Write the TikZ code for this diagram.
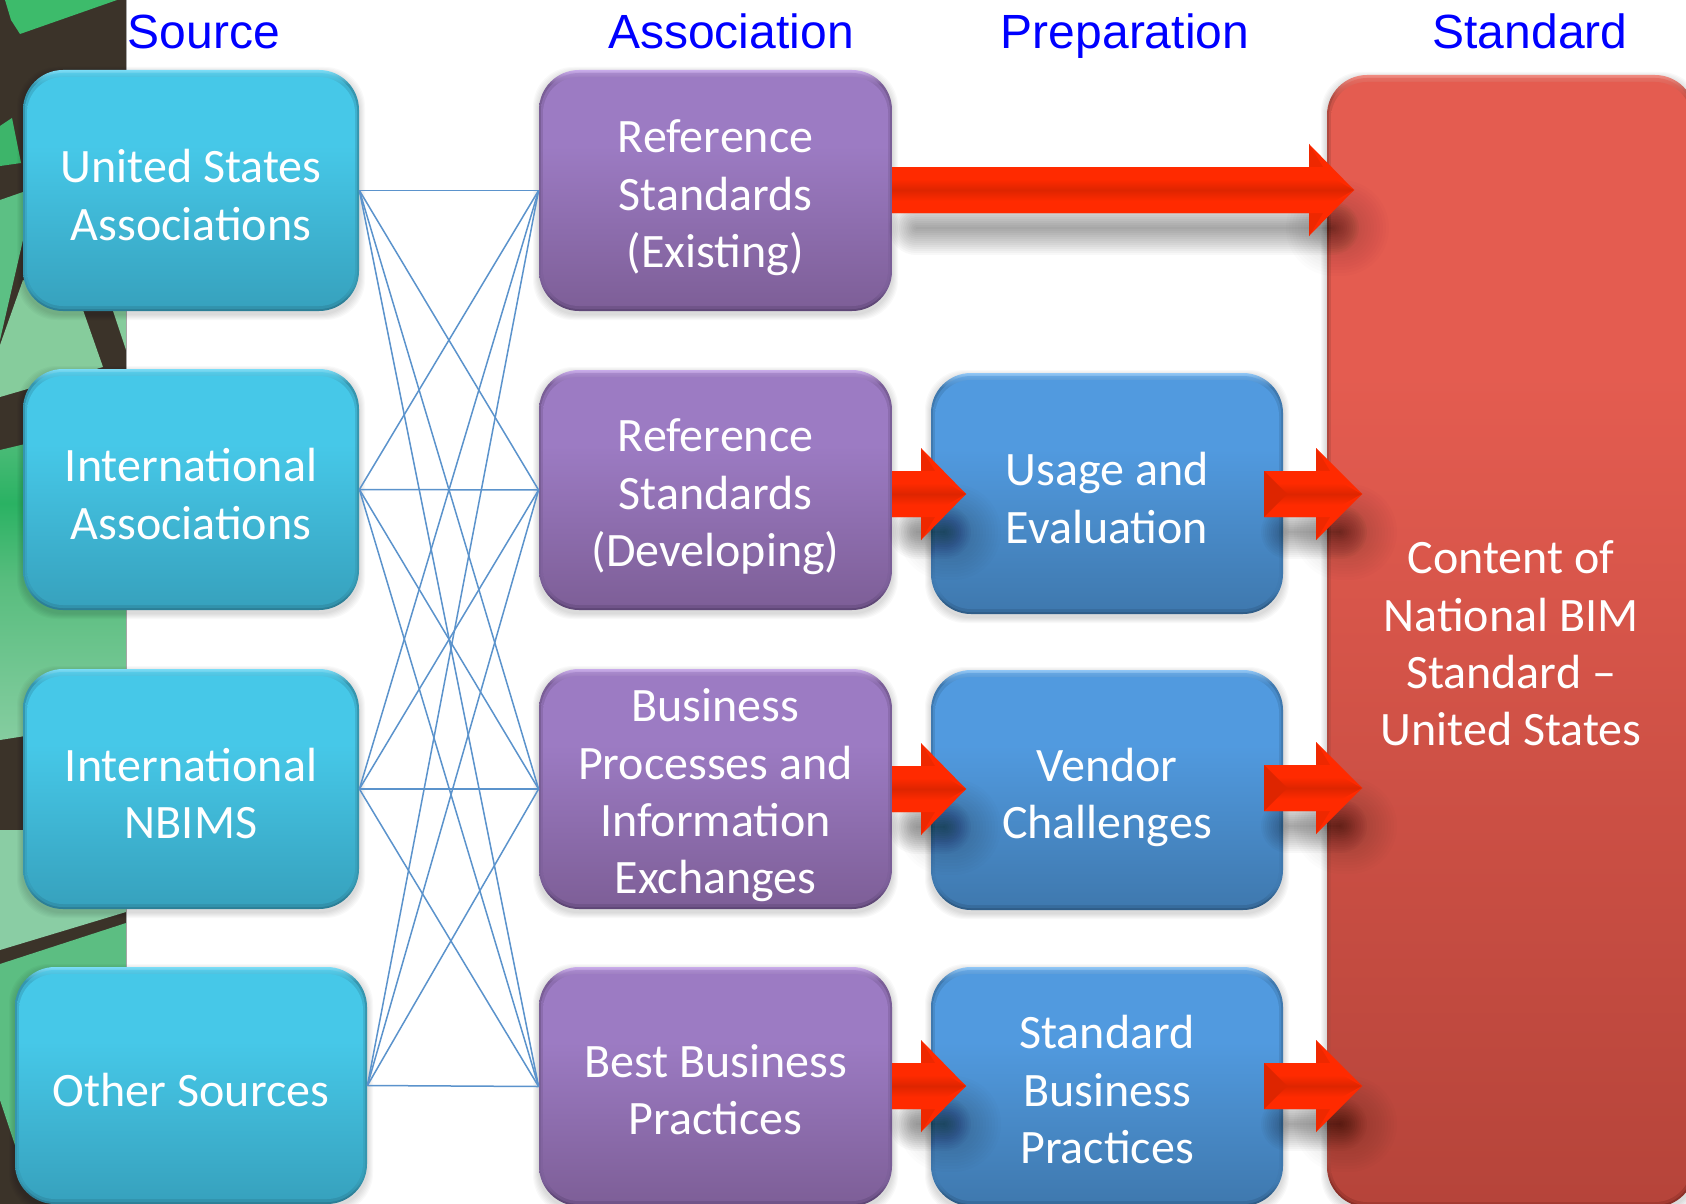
\documentclass[tikz,border=0pt]{standalone}
\usepackage{fontspec}
\setmainfont{Carlito}
\newfontfamily\carl{Carlito}
\newfontfamily\arial{Liberation Sans}
\usetikzlibrary{calc}
\definecolor{cyT}{HTML}{46C8E8}\definecolor{cyB}{HTML}{37A2BE}
\definecolor{cyH}{HTML}{7ADDF7}\definecolor{cyD}{HTML}{2C7F97}\definecolor{cyS}{HTML}{3596AF}
\definecolor{puT}{HTML}{9C7BC3}\definecolor{puB}{HTML}{7E5F98}
\definecolor{puH}{HTML}{C9ABEA}\definecolor{puD}{HTML}{5F4777}\definecolor{puS}{HTML}{7A5E97}
\definecolor{blT}{HTML}{519ADF}\definecolor{blB}{HTML}{3F79AF}
\definecolor{blH}{HTML}{90C6F6}\definecolor{blD}{HTML}{2F5D88}\definecolor{blS}{HTML}{3F79AF}
\definecolor{reT}{HTML}{E45C50}\definecolor{reB}{HTML}{B6443A}
\definecolor{reH}{HTML}{F08A80}\definecolor{reD}{HTML}{8C3028}\definecolor{reS}{HTML}{B04A40}
\definecolor{arR}{HTML}{FF2A00}\definecolor{arD}{HTML}{DE2500}\definecolor{arF}{HTML}{EE2800}
\definecolor{linkc}{HTML}{5B93CC}
\definecolor{bark}{HTML}{3B3329}
\definecolor{stripA}{HTML}{2AB263}\definecolor{stripB}{HTML}{58BD7E}\definecolor{stripC}{HTML}{85CDA0}\definecolor{stripD}{HTML}{58BF7F}
\definecolor{gOne}{HTML}{3DBB6B}\definecolor{gTwo}{HTML}{3DB56A}\definecolor{gThree}{HTML}{5CC084}
\definecolor{gFour}{HTML}{86CC9C}\definecolor{gFive}{HTML}{8ACDA4}\definecolor{gSix}{HTML}{5CBE82}
\pgfdeclareverticalshading{cyanedge}{100bp}{color(0bp)=(cyD);color(25bp)=(cyD);color(27bp)=(cyD);color(30bp)=(cyS);color(72bp)=(cyS);color(75bp)=(cyH);color(100bp)=(cyH)}
\pgfdeclareverticalshading{cyanface}{100bp}{color(0bp)=(cyB);color(25bp)=(cyB);color(60bp)=(cyT);color(75bp)=(cyT);color(100bp)=(cyT)}
\pgfdeclareverticalshading{puredge}{100bp}{color(0bp)=(puD);color(25bp)=(puD);color(27bp)=(puD);color(30bp)=(puS);color(72bp)=(puS);color(75bp)=(puH);color(100bp)=(puH)}
\pgfdeclareverticalshading{purface}{100bp}{color(0bp)=(puB);color(25bp)=(puB);color(60bp)=(puT);color(75bp)=(puT);color(100bp)=(puT)}
\pgfdeclareverticalshading{bluedge}{100bp}{color(0bp)=(blD);color(25bp)=(blD);color(27bp)=(blD);color(30bp)=(blS);color(72bp)=(blS);color(75bp)=(blH);color(100bp)=(blH)}
\pgfdeclareverticalshading{bluface}{100bp}{color(0bp)=(blB);color(25bp)=(blB);color(60bp)=(blT);color(75bp)=(blT);color(100bp)=(blT)}
\pgfdeclareverticalshading{rededge}{100bp}{color(0bp)=(reD);color(25bp)=(reD);color(26bp)=(reD);color(27bp)=(reS);color(74bp)=(reS);color(75bp)=(reH);color(100bp)=(reH)}
\pgfdeclareverticalshading{redface}{100bp}{color(0bp)=(reB);color(25bp)=(reB);color(62bp)=(reT);color(75bp)=(reT);color(100bp)=(reT)}
\pgfdeclareverticalshading{shaftshade}{100bp}{color(0bp)=(arR);color(25bp)=(arR);color(38bp)=(arR);color(50bp)=(arD);color(62bp)=(arR);color(75bp)=(arR);color(100bp)=(arR)}
\pgfdeclareverticalshading{stripshade}{100bp}{color(0bp)=(stripC);color(25bp)=(stripC);color(50bp)=(stripB);color(62bp)=(stripA);color(75bp)=(stripD);color(100bp)=(stripD)}
\newcommand{\insetface}[1]{%
  \shade[shading=#1,rounded corners=19pt,opacity=.55] ([shift={(2,3)}]path picture bounding box.north west) rectangle ([shift={(-2,-2)}]path picture bounding box.south east);
  \shade[shading=#1,rounded corners=18pt] ([shift={(4,7)}]path picture bounding box.north west) rectangle ([shift={(-4,-5)}]path picture bounding box.south east);}
\tikzset{
  x=0.5pt,y=-0.5pt,
  boxbase/.style={rectangle,rounded corners=20pt,inner sep=0pt},
  cyanbox/.style={boxbase,shade,shading=cyanedge,path picture={\insetface{cyanface}}},
  purplebox/.style={boxbase,shade,shading=puredge,path picture={\insetface{purface}}},
  bluebox/.style={boxbase,shade,shading=bluedge,path picture={\insetface{bluface}}},
  redbox/.style={boxbase,shade,shading=rededge,path picture={\insetface{redface}}},
  boxtext/.style={inner sep=0pt,align=center,text=white,font=\carl\fontsize{24}{28.7}\selectfont},
  header/.style={anchor=base,text=blue,font=\arial\fontsize{24}{28}\selectfont},
  link/.style={draw=linkc,line width=0.75pt},
  softshade/.style={draw=black,line cap=round,draw opacity=.026},
}
% name, x1, y1, x2, y2, style, text offset, text
\newcommand{\bx}[8]{%
  \foreach \i in {1,...,6}{\fill[black,opacity=.022,rounded corners=20pt] ({#2-\i},{#3+3-\i}) rectangle ({#4+\i},{#5+3+\i});}
  \pgfmathsetmacro{\cxx}{(#2+#4)/2}\pgfmathsetmacro{\cyy}{(#3+#5)/2}
  \pgfmathsetmacro{\cyt}{\cyy+#7}
  \pgfmathsetmacro{\ww}{(#4-#2)*0.5}\pgfmathsetmacro{\hh}{(#5-#3)*0.5}
  \node[#6,minimum width=\ww pt,minimum height=\hh pt] (#1) at (\cxx,\cyy) {};
  \node[boxtext] (#1t) at (\cxx,\cyt) {#8};}
% shadow of a block arrow: start, tip
\newcommand{\arrowshadow}[2]{%
  \foreach \w in {2,6,...,54}{
    \draw[softshade,line width=\w*0.5pt] ([shift={(24,38)}]#1) -- ([shift={(-22,38)}]#2);}
  \foreach \w in {6,12,...,96}{
    \draw[black,line cap=round,draw opacity=.012,line width=\w*0.5pt] ([shift={(-20,38)}]#2) -- ([shift={(-13,38)}]#2);}}
% block arrow: start, tip, head length
\newcommand{\blockarrow}[3]{%
  \fill[arR] ([shift={(0,-23)}]#1) -- ([shift={(-#3,-23)}]#2) -- ([shift={(-#3,-46)}]#2) -- (#2) -- ([shift={(-#3,46)}]#2) -- ([shift={(-#3,23)}]#2) -- ([shift={(0,23)}]#1) -- cycle;
  \fill[arF] ([shift={(-#3,-46)}]#2) -- ([shift={(-#3,-23)}]#2) -- ([shift={(-#3+17,-18)}]#2) -- cycle;
  \fill[arF] ([shift={(-#3,46)}]#2) -- ([shift={(-#3,23)}]#2) -- ([shift={(-#3+17,18)}]#2) -- cycle;
  \shade[shading=shaftshade] ([shift={(0,-23)}]#1) -- ([shift={(-#3+17,-23)}]#2) -- (#2) -- ([shift={(-#3+17,23)}]#2) -- ([shift={(0,23)}]#1) -- cycle;
  \fill[arR] ([shift={(-#3+17,-23)}]#2) -- (#2) -- ([shift={(-#3+17,-16)}]#2) -- cycle;
  \fill[arR] ([shift={(-#3+17,23)}]#2) -- (#2) -- ([shift={(-#3+17,16)}]#2) -- cycle;}
\newcommand{\startbevel}[1]{%
  \fill[arD] ([shift={(0,-23)}]#1) -- ([shift={(23,0)}]#1) -- ([shift={(0,23)}]#1) -- cycle;}
\begin{document}
\begin{tikzpicture}
\useasboundingbox (0,0) rectangle (1686,1204);
\clip (0,0) rectangle (1686,1204);
\fill[white] (0,0) rectangle (1686,1204);
% left picture strip
\fill[bark] (0,0) rectangle (126,1204);
\fill[gOne] (5,0) -- (117,0) -- (20,34) -- (11,20) -- cycle;
\fill[gTwo] (0,126) -- (12,118) -- (21,163) -- (0,166) -- cycle;
\fill[gThree] (0,200) -- (23,192) -- (23,240) -- (0,340) -- cycle;
\fill[gFour] (23,280) -- (83,310) -- (103,367) -- (0,397) -- (0,345) -- cycle;
\fill[gFour] (113,311) -- (126,311) -- (126,350) -- cycle;
\shade[shading=stripshade] (0,450) -- (126,420) -- (126,720) -- (0,740) -- cycle;
\fill[gFive] (0,830) -- (126,830) -- (126,912) -- (0,950) -- cycle;
\fill[gSix] (0,964) -- (126,923) -- (126,975) -- (15,1145) -- (0,1100) -- cycle;
\draw[gray!70,line width=0.5pt] (126,0) -- (126,1204);
% boxes
\bx{s1}{23}{70}{359}{311}{cyanbox}{4.5}{United States\\Associations}
\bx{s2}{23}{369}{359}{610}{cyanbox}{4.5}{International\\Associations}
\bx{s3}{23}{669}{359}{909}{cyanbox}{4.5}{International\\NBIMS}
\bx{s4}{15}{967}{367}{1204}{cyanbox}{4.5}{Other Sources}
\bx{a1}{539}{70}{892}{311}{purplebox}{7.5}{Reference\\Standards\\(Existing)}
\bx{a2}{539}{370}{892}{610}{purplebox}{7}{Reference\\Standards\\(Developing)}
\bx{a3}{539}{669}{892}{909}{purplebox}{6.5}{Business\\Processes and\\Information\\Exchanges}
\bx{a4}{539}{967}{892}{1206}{purplebox}{3}{Best Business\\Practices}
\bx{p2}{931}{373}{1283}{614}{bluebox}{4.5}{Usage and\\Evaluation}
\bx{p3}{931}{670}{1283}{910}{bluebox}{7.5}{Vendor\\Challenges}
\bx{p4}{931}{967}{1283}{1206}{bluebox}{3}{Standard\\Business\\Practices}
\bx{std}{1327}{75}{1695}{1207}{redbox}{2.5}{Content of\\National BIM\\Standard –\\United States}
% headers
\node[header] (h1) at (204,49) {Source};
\node[header] (h2) at (731,49) {Association};
\node[header] (h3) at (1125,49) {Preparation};
\node[header] (h4) at (1530,49) {Standard};
% links
\foreach \a in {s1,s2,s3,s4}{\foreach \b in {a1,a2,a3,a4}{\draw[link] (\a.east) -- (\b.west);}}
% block arrows
\coordinate (r1s) at (892,190); \coordinate (r1t) at (1354,190);
\coordinate (r2s) at (892,494); \coordinate (r2t) at (966,494);
\coordinate (r3s) at (892,789); \coordinate (r3t) at (966,789);
\coordinate (r4s) at (892,1086); \coordinate (r4t) at (966,1086);
\coordinate (q2s) at (1264,494); \coordinate (q2t) at (1362,494);
\coordinate (q3s) at (1264,788); \coordinate (q3t) at (1362,788);
\coordinate (q4s) at (1264,1086); \coordinate (q4t) at (1362,1086);
\foreach \s/\t in {r1s/r1t,r2s/r2t,r3s/r3t,r4s/r4t,q2s/q2t,q3s/q3t,q4s/q4t}{\arrowshadow{\s}{\t}}
\blockarrow{r1s}{r1t}{45}
\foreach \s/\t in {r2s/r2t,r3s/r3t,r4s/r4t}{\blockarrow{\s}{\t}{45}}
\foreach \s/\t in {q2s/q2t,q3s/q3t,q4s/q4t}{\blockarrow{\s}{\t}{46}\startbevel{\s}}
\end{tikzpicture}
\end{document}
